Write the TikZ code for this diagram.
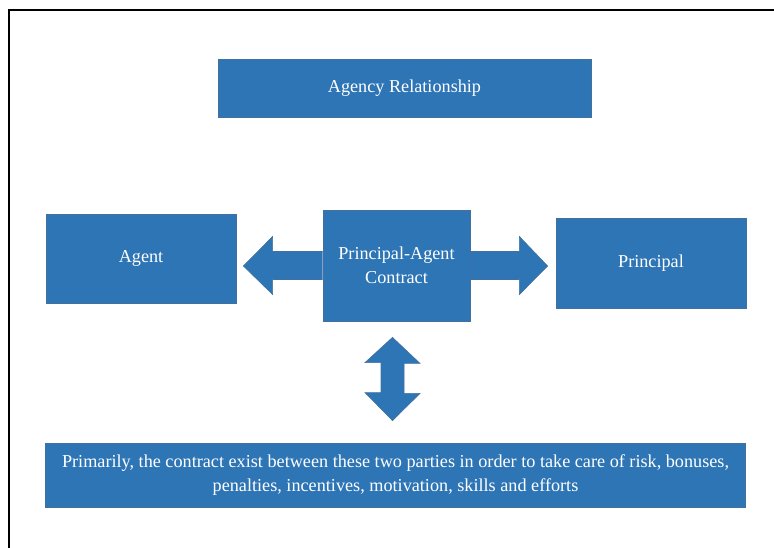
\documentclass[tikz,border=0pt]{standalone}
\usepackage{fontspec}
\setmainfont{Liberation Serif}
\usetikzlibrary{positioning, calc}

\definecolor{boxblue}{HTML}{2E75B6}
\definecolor{boxedge}{HTML}{41719C}

\begin{document}
\begin{tikzpicture}[
  x=1pt, y=-1pt,
  box/.style   = {draw=boxedge, line width=0.8pt, fill=boxblue, text=white,
                  align=center, inner sep=2pt, font=\fontsize{18.2}{23.5}\selectfont},
  blockarrow/.style = {fill=boxblue, draw=boxedge, line width=0.6pt}
]
\useasboundingbox (0,0) rectangle (774,548);

% open frame (top and left edge only)
\draw[line width=2pt] (8.5,548) |- (774,10.5);

%--------------------------------------------------
% Boxes
%--------------------------------------------------
\node[box, minimum width=373pt, minimum height=58pt] (title) at (404.5,88)
  {Agency Relationship};

\node[box, minimum width=147pt, minimum height=111pt] (contract) at (396.5,265.5)
  {Principal-Agent\\Contract};

\node[box, minimum width=190pt, minimum height=89pt] (agent) at (141,258.5)
  {Agent};

\node[box, minimum width=190pt, minimum height=90pt] (principal) at (651,263)
  {Principal};

\node[box, minimum width=700pt, minimum height=64pt] (note) at (395.5,475)
  {Primarily, the contract exist between these two parties in order to take care of risk, bonuses,\\
   penalties, incentives, motivation, skills and efforts};

%--------------------------------------------------
% Block arrows
%--------------------------------------------------

% contract -> agent
\draw[blockarrow]
  ($(contract.west)+(0,-14)$) -- ++(-50,0) -- ++(0,-15) -- ($(agent.east)+(7,7.5)$)
  -- ($(contract.west)+(-50,29)$) -- ++(0,-15) -- ($(contract.west)+(0,14)$);

% contract -> principal
\draw[blockarrow]
  ($(contract.east)+(0,-14)$) -- ++(49,0) -- ++(0,-15) -- ($(principal.west)+(-8,3)$)
  -- ($(contract.east)+(49,29)$) -- ++(0,-15) -- ($(contract.east)+(0,14)$);

% contract <-> note
\draw[blockarrow]
  ($(contract.south)+(-4,16)$) -- ++(27.5,26) -- ++(-16,0) -- ++(0,30) -- ++(16,0)
  -- ($(note.north)+(-3,-22)$) -- ++(-27.5,-28) -- ++(16,0) -- ++(0,-30) -- ++(-16,0)
  -- cycle;

\end{tikzpicture}
\end{document}
